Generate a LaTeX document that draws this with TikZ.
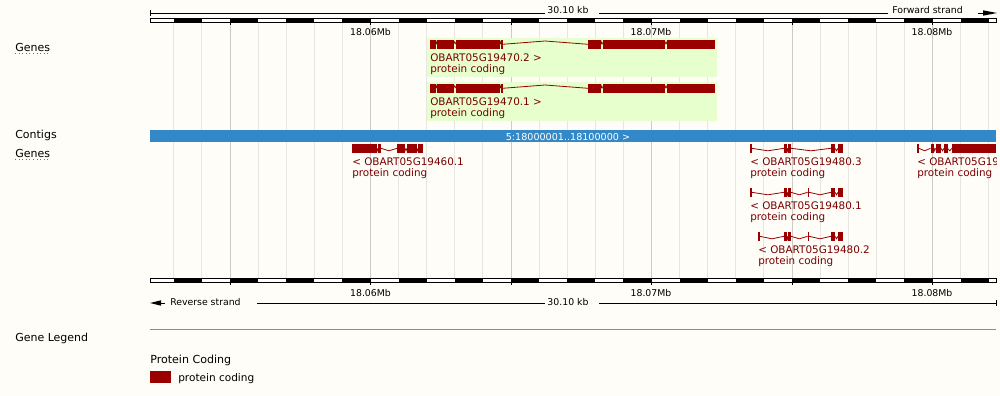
\documentclass[tikz,border=0pt]{standalone}
\usepackage{fontspec}
\setmainfont{DejaVu Sans}
\definecolor{bg}{HTML}{FFFDF7}
\definecolor{exonred}{HTML}{9A0000}
\definecolor{labelred}{HTML}{7A0000}
\definecolor{hilite}{RGB}{230,255,205}
\definecolor{contigblue}{HTML}{3388C8}
\definecolor{gridlight}{HTML}{E8E6E0}
\definecolor{griddark}{HTML}{CDCBC6}
\definecolor{linkblue}{HTML}{4A6FB5}
\definecolor{sepgray}{HTML}{8C8C8C}
\newcommand{\kbx}[1]{370.5+28.1*(#1-60)}
\newcommand{\ex}[2]{\fill[exonred] (#1,0) rectangle (#2,8.6);}
\newcommand{\inV}[2]{\draw[intron] (#1,4.3) -- ({(#1+#2)/2},6.8) -- (#2,4.3);}
\newcommand{\inA}[2]{\draw[intron] (#1,4.3) -- ({(#1+#2)/2},1.8) -- (#2,4.3);}
\begin{document}
\begin{tikzpicture}[x=0.75pt,y=-0.75pt,
  intron/.style={draw=exonred,line width=0.6pt},
  trk/.style={inner sep=0pt,anchor=base west,font=\fontsize{8.25pt}{10pt}\selectfont},
  glbl/.style={inner sep=0pt,anchor=base west,text=labelred,font=\fontsize{7.8pt}{9pt}\selectfont},
  scl/.style={inner sep=0pt,anchor=base,font=\fontsize{7pt}{8pt}\selectfont},
  sline/.style={line width=0.75pt,draw=black},
  gridl/.style={line width=0.75pt,draw=gridlight},
  gridd/.style={line width=0.75pt,draw=griddark},
  hibox/.style={fill=hilite,draw=none}]
\useasboundingbox (0,0) rectangle (1000,396);
\fill[bg] (0,0) rectangle (1000,396);

% grid lines
\foreach \k in {53,...,82} {\draw[gridl] ({\kbx{\k}},22) -- ({\kbx{\k}},278);}
\foreach \k in {55,60,...,80} {\draw[gridd] ({\kbx{\k}},22) -- ({\kbx{\k}},278);}

% top scale
\draw[sline] (150,10) -- (150,16);
\draw[sline] (150,13) -- (545,13);
\node[scl] (kbtop) at (568,13.5) {30.10 kb};
\draw[sline] (599,13) -- (888,13);
\node[trk,font=\fontsize{7pt}{8pt}\selectfont] (fwd) at (892,13.5) {Forward strand};
\draw[sline] (978,13) -- (984,13);
\fill[black] (983,10.3) -- (997,13) -- (983,15.7) -- cycle;

% rulers
\foreach \yy in {18,278} {
  \filldraw[fill=white,draw=black,line width=0.7pt] (150,\yy) rectangle (996,\yy+4);
  \foreach \k in {53,55,...,81} {\fill[black] ({\kbx{\k}},\yy) rectangle ({\kbx{\k+1}},\yy+4);}
  \foreach \k in {55,60,...,80} {\draw[sline] ({\kbx{\k}},\yy+4) -- ({\kbx{\k}},\yy+6.5);}
}
\node[scl] (mb1) at (370.5,36) {18.06Mb};
\node[scl] (mb2) at (651,36) {18.07Mb};
\node[scl] (mb3) at (932,36) {18.08Mb};
\node[scl] (mb4) at (370.5,296.7) {18.06Mb};
\node[scl] (mb5) at (651,296.7) {18.07Mb};
\node[scl] (mb6) at (932,296.7) {18.08Mb};

% bottom scale
\fill[black] (150,303) -- (161,300.3) -- (161,305.7) -- cycle;
\draw[sline] (160,303) -- (165,303);
\node[trk,font=\fontsize{7pt}{8pt}\selectfont] (rev) at (170,305.5) {Reverse strand};
\draw[sline] (257,303) -- (545,303);
\node[scl] (kbbot) at (568,305.5) {30.10 kb};
\draw[sline] (599,303) -- (996,303);
\draw[sline] (996,300) -- (996,306);

% track labels
\node[trk] (genes1) at (15,51) {Genes};
\draw[linkblue,dotted,line width=0.7pt] (15,53.5) -- (50,53.5);
\node[trk] (contigs) at (15,138) {Contigs};
\node[trk] (genes2) at (15,157) {Genes};
\draw[linkblue,dotted,line width=0.7pt] (15,159.5) -- (50,159.5);
\node[trk] (legend) at (15,341.7) {Gene Legend};

% forward genes
\foreach \yy/\nm/\id in {38/g1/OBART05G19470.2,82/g2/OBART05G19470.1} {
  \fill[hibox] (427,\yy) rectangle (717,\yy+39);
  \begin{scope}[shift={(0,\yy+2)}]
    \ex{430}{435.5}\ex{437}{453.5}\ex{456}{499.5}\ex{501}{502.5}
    \ex{588}{601}\ex{602.5}{665}\ex{667}{715}
    \inA{435.5}{437}\inA{453.5}{456}\inA{499.5}{501}\inA{601}{602.5}\inA{665}{667}
    \draw[intron] (502.5,4.3) -- (545,1) -- (588,4.3);
  \end{scope}
  \node[glbl] (\nm a) at (430,\yy+23) {\id\ >};
  \node[glbl] (\nm b) at (430,\yy+34) {protein coding};
}

% contig
\fill[contigblue] (150,130) rectangle (996,142);
\node[scl,text=white,font=\fontsize{7.2pt}{8pt}\selectfont] (contig) at (568,140) {5:18000001..18100000 >};

% reverse genes
\begin{scope}[shift={(0,144)}]
  \ex{352}{376.5}\ex{378}{381}\ex{397}{405}\ex{407}{416.5}\ex{418}{423}
  \inV{376.5}{378}\inV{381}{397}\inV{405}{407}\inV{416.5}{418}
\end{scope}
\node[glbl] (r1a) at (352,165) {< OBART05G19460.1};
\node[glbl] (r1b) at (352,176) {protein coding};

\begin{scope}[shift={(0,144)}]
  \ex{750}{751.8}\ex{784}{787}\ex{788}{791}\ex{831}{835}\ex{838}{843}
  \inV{751.8}{784}\inV{787}{788}\inV{791}{831}\inV{835}{838}
\end{scope}
\node[glbl] (r2a) at (750,165) {< OBART05G19480.3};
\node[glbl] (r2b) at (750,176) {protein coding};

\begin{scope}[shift={(0,188)}]
  \ex{750}{751.8}\ex{784}{787}\ex{788}{791}\ex{807.6}{809}\ex{831}{835}\ex{838}{843}
  \inV{751.8}{784}\inV{787}{788}\inV{791}{807.6}\inV{809}{831}\inV{835}{838}
\end{scope}
\node[glbl] (r3a) at (750,209) {< OBART05G19480.1};
\node[glbl] (r3b) at (750,220) {protein coding};

\begin{scope}[shift={(0,232)}]
  \ex{758}{759.8}\ex{784}{787}\ex{788}{791}\ex{807.6}{809}\ex{831}{835}\ex{838}{843}
  \inV{759.8}{784}\inV{787}{788}\inV{791}{807.6}\inV{809}{831}\inV{835}{838}
\end{scope}
\node[glbl] (r4a) at (758,253) {< OBART05G19480.2};
\node[glbl] (r4b) at (758,264) {protein coding};

\begin{scope}
  \clip (0,0) rectangle (996,396);
  \begin{scope}[shift={(0,144)}]
    \ex{917}{918.8}\ex{930.5}{934}\ex{935.5}{941}\ex{944}{947.5}\ex{952}{996}
    \inV{918.8}{930.5}\inV{934}{935.5}\inV{941}{944}\inV{947.5}{952}
  \end{scope}
  \node[glbl] (r5a) at (917,165) {< OBART05G19490.1};
  \node[glbl] (r5b) at (917,176) {protein coding};
\end{scope}

% legend
\draw[sepgray,line width=0.75pt] (150,329.5) -- (996,329.5);
\node[trk,font=\fontsize{8.3pt}{10pt}\selectfont] (pc) at (150,363) {Protein Coding};
\fill[exonred] (150,371) rectangle (171,382.5);
\node[trk,font=\fontsize{7.9pt}{9pt}\selectfont] (pcl) at (178,381) {protein coding};
\end{tikzpicture}
\end{document}
